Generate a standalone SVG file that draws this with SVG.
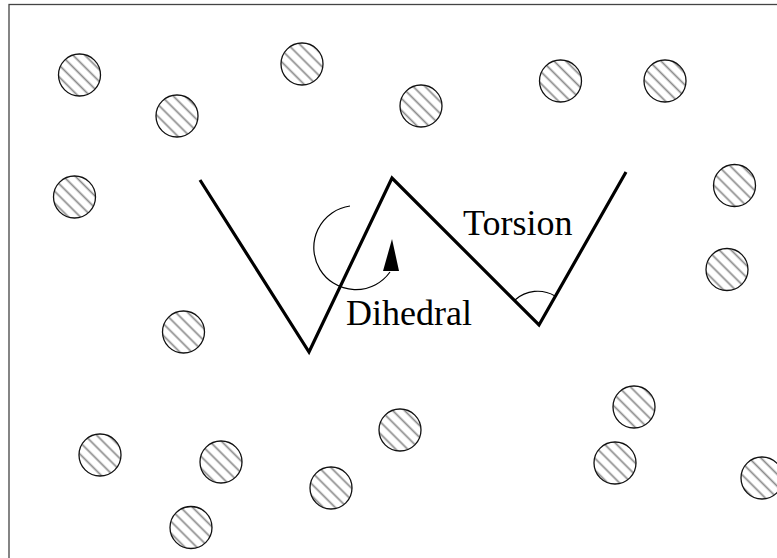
<svg xmlns="http://www.w3.org/2000/svg" width="777" height="558" viewBox="0 0 777 558">
<style>
.frame{fill:none;stroke:#444;stroke-width:1.3}
.atom{fill:url(#hatch);stroke:#111;stroke-width:1.3}
.chain{fill:none;stroke:#000;stroke-width:3.2;stroke-linejoin:miter}
.arc{fill:none;stroke:#000;stroke-width:1.2}
.lbl{font-family:"Liberation Serif","Times New Roman",serif;font-size:36px;fill:#000}
</style>
<defs>
<pattern id="hatch" patternUnits="userSpaceOnUse" width="8.4" height="8.4" patternTransform="rotate(-45)">
<rect width="8.4" height="8.4" fill="#fff"/>
<line x1="4.2" y1="0" x2="4.2" y2="8.4" stroke="#8a8a8a" stroke-width="1.7"/>
</pattern>
</defs>
<rect width="777" height="558" fill="#fff"/>
<rect class="frame" x="9" y="4.5" width="790" height="580"/>
<g id="atoms">
<circle id="a1" class="atom" cx="79.5" cy="75" r="21"/>
<circle id="a2" class="atom" cx="177" cy="116" r="21"/>
<circle id="a3" class="atom" cx="302" cy="64" r="21"/>
<circle id="a4" class="atom" cx="421" cy="106" r="21"/>
<circle id="a5" class="atom" cx="560.5" cy="81" r="21"/>
<circle id="a6" class="atom" cx="665" cy="81" r="21"/>
<circle id="a7" class="atom" cx="74.5" cy="197" r="21"/>
<circle id="a8" class="atom" cx="734.5" cy="185.5" r="21"/>
<circle id="a9" class="atom" cx="727" cy="269.5" r="21"/>
<circle id="a10" class="atom" cx="183.5" cy="332" r="21"/>
<circle id="a11" class="atom" cx="634" cy="407" r="21"/>
<circle id="a12" class="atom" cx="100" cy="455" r="21"/>
<circle id="a13" class="atom" cx="221" cy="462" r="21"/>
<circle id="a14" class="atom" cx="400" cy="430" r="21"/>
<circle id="a15" class="atom" cx="331" cy="488" r="21"/>
<circle id="a16" class="atom" cx="615" cy="463" r="21"/>
<circle id="a17" class="atom" cx="762" cy="478" r="21"/>
<circle id="a18" class="atom" cx="191" cy="527.5" r="21"/>
</g>
<g id="connectors">
<polyline id="chain" class="chain" points="200,180 309,352 392,178 539,325 626,172"/>
<path id="dihedral-arc" class="arc" d="M350,206 A42,42 0 1 0 390,272"/>
<polygon id="dihedral-arrow" points="392,239 383,271 399,271" fill="#000"/>
<path id="torsion-arc" class="arc" d="M515,300 A34,34 0 0 1 555,296"/>
</g>
<g id="labels">
<text id="torsion" class="lbl" x="463" y="235">Torsion</text>
<text id="dihedral" class="lbl" x="346" y="325">Dihedral</text>
</g>
</svg>
